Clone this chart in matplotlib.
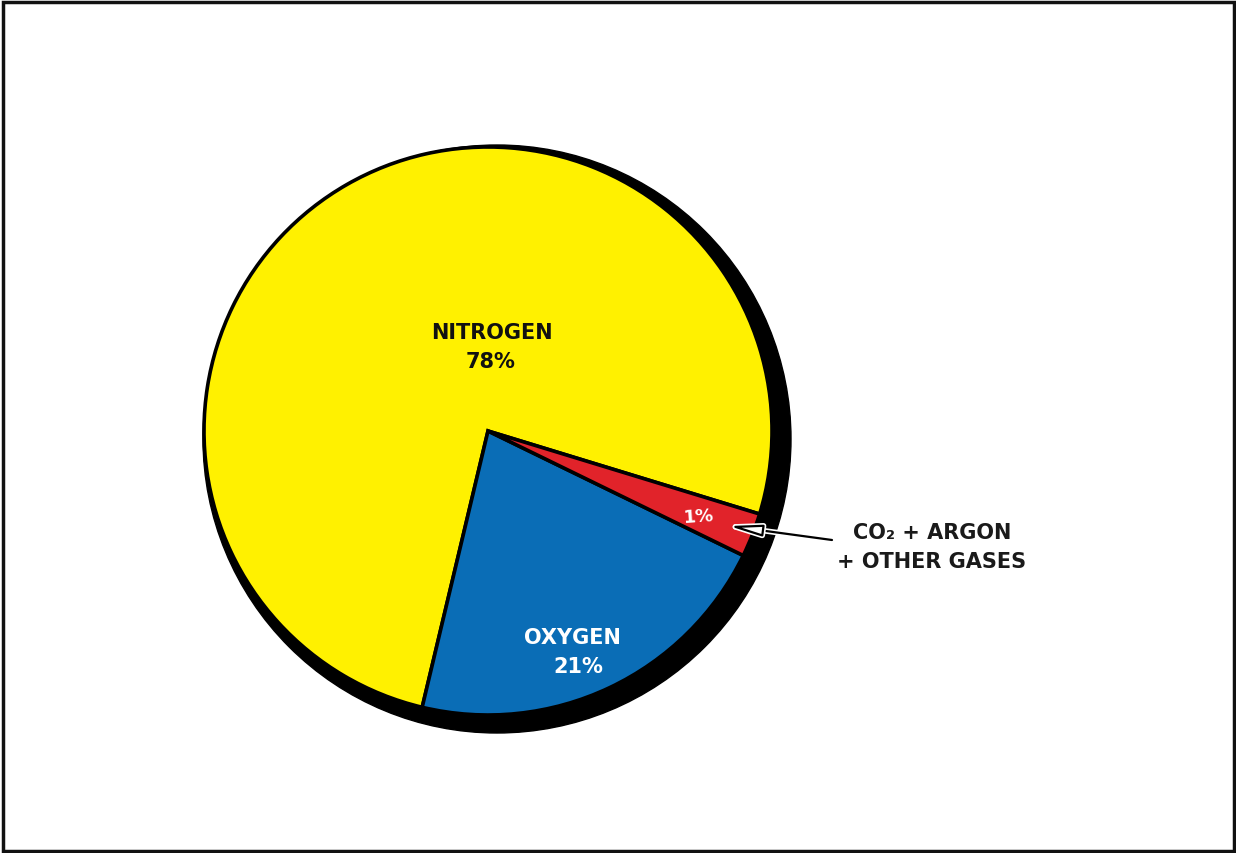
import matplotlib
matplotlib.use("Agg")
import matplotlib.pyplot as plt
from matplotlib.patches import Circle, Rectangle
import matplotlib.patheffects as pe

# gases and the share of the disc each slice takes in the drawing
gases = ["NITROGEN", "OXYGEN", "OTHER"]
slice_share = [76.0, 21.5, 2.5]
pct_labels = ["78%", "21%", "1%"]
slice_colors = ["#fff100", "#0a6db6", "#e1232a"]
callout_lines = ["CO\u2082 + ARGON", "+ OTHER GASES"]

W, H = 1236, 854
fig = plt.figure(figsize=(W / 100, H / 100), dpi=100)
ax = fig.add_axes([0, 0, 1, 1])

cx, cy, r = 488, H - 432, 284

# black drop shadow behind the pie
ax.add_patch(Circle((cx + 9, cy - 8), r + 10, color="black", zorder=1))

wedges, _ = ax.pie(slice_share, colors=slice_colors, startangle=-17,
                   counterclock=True, center=(cx, cy), radius=r,
                   wedgeprops=dict(edgecolor="black", linewidth=2.6),
                   frame=True)
for w in wedges:
    w.set_zorder(2)
ax.set_xlim(0, W)
ax.set_ylim(0, H)
ax.set_aspect("equal")
ax.axis("off")

font = dict(family="DejaVu Sans", fontweight="bold", ha="center", va="center", zorder=5)
ax.text(492, H - 333, gases[0], fontsize=15, color="#111111", **font)
ax.text(491, H - 362, pct_labels[0], fontsize=15, color="#111111", **font)
ax.text(572, H - 638, gases[1], fontsize=15, color="white", **font)
ax.text(578, H - 667, pct_labels[1], fontsize=15, color="white", **font)
ax.text(699, H - 517, pct_labels[2], fontsize=13, color="white", rotation=4, **font)

# callout for the small slice
arrow = ax.annotate("", xy=(729, H - 527), xytext=(832, H - 541),
                    arrowprops=dict(arrowstyle="-|>,head_length=2.0,head_width=0.35",
                                    fc="white", ec="black", lw=1.6,
                                    shrinkA=0, shrinkB=0), zorder=4)
arrow.arrow_patch.set_path_effects([pe.withStroke(linewidth=4, foreground="white")])

ax.text(853, H - 533, callout_lines[0], fontsize=15, color="#1a1a1a",
        family="DejaVu Sans", fontweight="bold", ha="left", va="center")
ax.text(837, H - 562, callout_lines[1], fontsize=15, color="#1a1a1a",
        family="DejaVu Sans", fontweight="bold", ha="left", va="center")

# frame round the whole picture
fig.patches.append(Rectangle((2.5 / W, 2.5 / H), 1 - 5 / W, 1 - 5 / H,
                             transform=fig.transFigure, fill=False,
                             edgecolor="#111111", linewidth=2.5))

fig.savefig("out.png", dpi=100)
